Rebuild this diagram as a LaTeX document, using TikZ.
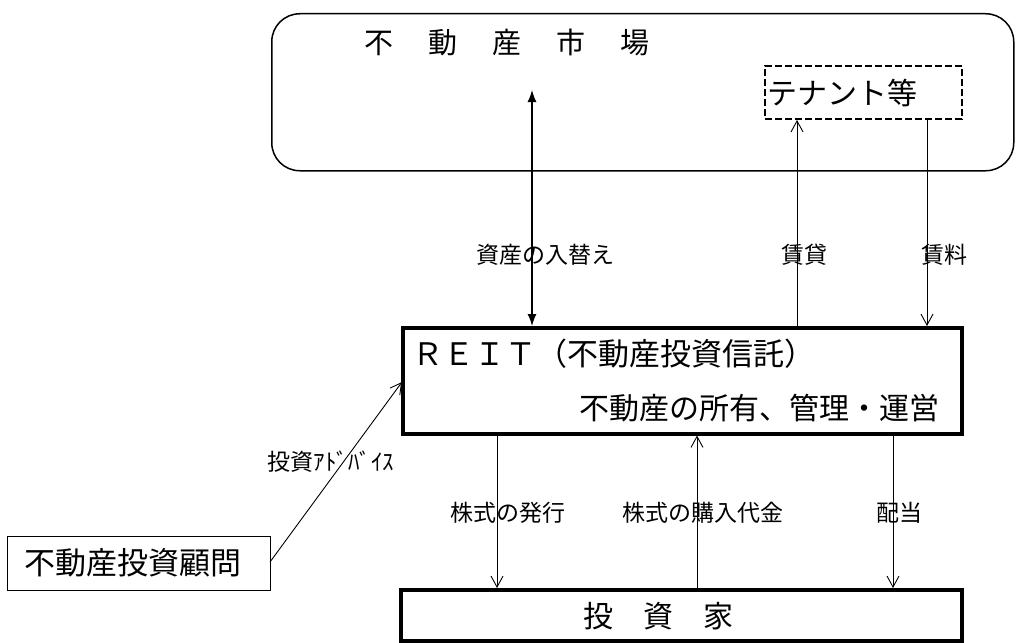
\documentclass[tikz,border=0pt]{standalone}
\usepackage{fontspec}
\setmainfont{Noto Sans CJK JP}
\usetikzlibrary{arrows.meta}
\begin{document}
\begin{tikzpicture}[x=1pt,y=-1pt,
  box/.style={draw,inner sep=0pt,anchor=north west},
  lbl/.style={inner sep=0pt,font=\fontsize{23}{23}\selectfont},
  big/.style={inner sep=0pt,font=\fontsize{30}{30}\selectfont},
  flow/.style={line width=0.9pt,-{Straight Barb[length=11pt,width=12pt,line width=0.9pt]}},
  swaparrow/.style={line width=1.3pt,{Latex[length=12pt,width=9pt]}-{Latex[length=12pt,width=9pt]}}
]
\useasboundingbox (0,0) rectangle (1016,642);
% boxes
\node[box, minimum width=742pt, minimum height=157pt, rounded corners=28pt, line width=1.5pt] (market) at (271,13) {};
\node[box, minimum width=197pt, minimum height=53pt, line width=2pt, dash pattern=on 7pt off 3pt] (tenant) at (764,65) {};
\node[box, minimum width=559pt, minimum height=106pt, line width=3.5pt] (reit) at (401,326) {};
\node[box, minimum width=561pt, minimum height=51pt, line width=3.5pt] (investor) at (399,588) {};
\node[box, minimum width=263pt, minimum height=54pt, line width=1pt] (advisor) at (7,536) {};
% texts
\node[big, font=\fontsize{29}{29}\selectfont] (markettext) at (507,42) {不\hspace{35pt}動\hspace{35pt}産\hspace{35pt}市\hspace{35pt}場};
\node[big, anchor=west] (tenanttext) at (767,93) {テナント等};
\node[big, anchor=west, font=\fontsize{31}{31}\selectfont] (reittitle) at (412,354) {ＲＥＩＴ（不動産投資信託）};
\node[big, anchor=east, font=\fontsize{30}{30}\selectfont] (reitsub) at (940,408) {不動産の所有、管理・運営};
\node[big] (investortext) at (658,616) {投\hspace{30pt}資\hspace{30pt}家};
\node[big, anchor=west, font=\fontsize{31}{31}\selectfont] (advisortext) at (24,563) {不動産投資顧問};
% connector columns
\coordinate (swaptop) at (532,90);
\coordinate (xlend) at (797,0);
\coordinate (xrent) at (927,0);
\coordinate (xissue) at (497,0);
\coordinate (xpay) at (697,0);
\coordinate (xdiv) at (893,0);
\coordinate (advstart) at (270,562);
\coordinate (advend) at (402,382);
% connectors
\draw[swaparrow] (swaptop) -- (reit.north -| swaptop);
\draw[flow] (reit.north -| xlend) -- (tenant.south -| xlend);
\draw[flow] (tenant.south -| xrent) -- (reit.north -| xrent);
\draw[flow] (reit.south -| xissue) -- (investor.north -| xissue);
\draw[flow] (investor.north -| xpay) -- (reit.south -| xpay);
\draw[flow] (reit.south -| xdiv) -- (investor.north -| xdiv);
\draw[flow] (advstart) -- (advend);
% labels
\node[lbl] (lswap) at (545,255) {資産の入替え};
\node[lbl] (llend) at (804,255) {賃貸};
\node[lbl] (lrent) at (944,255) {賃料};
\node[lbl] (lissue) at (508,513) {株式の発行};
\node[lbl] (lpay) at (703,513) {株式の購入代金};
\node[lbl] (ldiv) at (899,513) {配当};
\node[lbl] (ladv) at (331,462) {投資ｱﾄﾞﾊﾞｲｽ};
\end{tikzpicture}
\end{document}
